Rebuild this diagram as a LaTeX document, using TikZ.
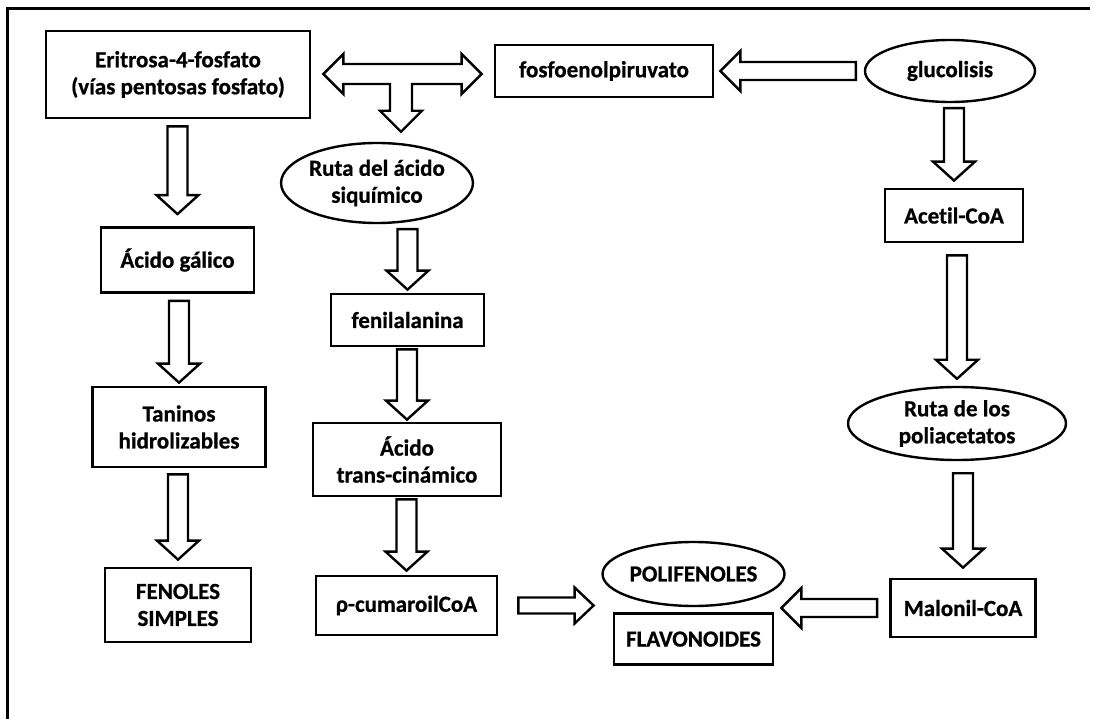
\documentclass[tikz,border=0pt]{standalone}
\usepackage{fontspec}
\setmainfont{Carlito}[Ligatures={NoCommon},BoldFeatures={FakeBold=0.8}]
\usepackage{tikz}
\usetikzlibrary{positioning,calc,shapes.geometric}

% hollow block arrows, x from the target, y from the source
\newcommand{\fatdown}[4]{%
  \draw[fat] let \p1=(#1), \p2=(#2) in
    (\x2-10pt,\y1-#3) -- (\x2-10pt,\y2+#4+19pt) -- (\x2-21pt,\y2+#4+19pt)
    -- (\x2,\y2+#4) -- (\x2+21pt,\y2+#4+19pt) -- (\x2+10pt,\y2+#4+19pt)
    -- (\x2+10pt,\y1-#3) -- cycle;}
\newcommand{\fatleft}[4]{%
  \draw[fat] let \p1=(#1), \p2=(#2) in
    (\x1-#3,\y1+9pt) -- (\x2+#4+20pt,\y1+9pt) -- (\x2+#4+20pt,\y1+20pt)
    -- (\x2+#4,\y1) -- (\x2+#4+20pt,\y1-20pt) -- (\x2+#4+20pt,\y1-9pt)
    -- (\x1-#3,\y1-9pt) -- cycle;}
\newcommand{\fatright}[4]{%
  \draw[fat] let \p1=(#1), \p2=(#2) in
    (\x1+#3,\y1+8pt) -- (\x2-#4-19pt,\y1+8pt) -- (\x2-#4-19pt,\y1+18pt)
    -- (\x2-#4,\y1) -- (\x2-#4-19pt,\y1-18pt) -- (\x2-#4-19pt,\y1-8pt)
    -- (\x1+#3,\y1-8pt) -- cycle;}

\begin{document}
\begin{tikzpicture}[
  x=1pt, y=-1pt,
  every node/.style={font=\fontsize{23}{27}\selectfont\bfseries},
  box/.style={draw,line width=2.8pt,inner sep=0pt,align=center},
  oval/.style={draw,ellipse,line width=2.4pt,inner sep=0pt,align=center},
  fat/.style={draw,line width=2.4pt,fill=white,line join=miter}
]
  \useasboundingbox (0,0) rectangle (1093,719);
  \draw[line width=3pt] (7,719) -- (7,8.5) -- (1090,8.5);

  % left column
  \node[box,minimum width=264pt,minimum height=87pt] (erit) at (178,74.5)
    {Eritrosa-4-fosfato\\(vías pentosas fosfato)};
  \node[box,minimum width=153pt,minimum height=65pt] (acgal) at (177.5,260) {Ácido gálico};
  \node[box,minimum width=173pt,minimum height=80pt] (tanin) at (179,427) {Taninos\\hidrolizables};
  \node[box,minimum width=146pt,minimum height=74pt] (fenol) at (178,605) {FENOLES\\SIMPLES};

  % middle column
  \node[box,minimum width=218pt,minimum height=52pt] (fosfo) at (604,71) {fosfoenolpiruvato};
  \node[oval,minimum width=151pt,minimum height=80pt] (ruta) at (377,183) {Ruta del ácido\\siquímico};
  \node[box,minimum width=153pt,minimum height=52pt] (fenil) at (407.5,320) {fenilalanina};
  \node[box,minimum width=188pt,minimum height=73pt] (trans) at (407,459.5) {Ácido\\trans-cinámico};
  \node[box,minimum width=181pt,minimum height=59pt] (cumar) at (406.5,605.5) {ρ-cumaroilCoA};

  % products
  \node[oval,minimum width=182pt,minimum height=64pt] (polif) at (693.5,574) {POLIFENOLES};
  \node[box,minimum width=159pt,minimum height=51pt,below=5pt of polif] (flav) {FLAVONOIDES};

  % right column
  \node[oval,minimum width=170pt,minimum height=62pt] (gluco) at (950,71) {glucolisis};
  \node[box,minimum width=138pt,minimum height=53pt] (acetil) at (954,215.5) {Acetil-CoA};
  \node[oval,minimum width=218pt,minimum height=73pt] (poliac) at (957,423.5) {Ruta de los\\poliacetatos};
  \node[box,minimum width=145pt,minimum height=58pt] (malon) at (963,608) {Malonil-CoA};

  % T arrow between the two precursors and the shikimate route
  \coordinate (tee) at (401,74);
  \draw[fat] let \p1=(erit.east), \p2=(fosfo.west), \p3=(tee), \p4=(ruta.north) in
    (\x1+12pt,\y3) -- (\x1+32pt,\y3+20pt) -- (\x1+32pt,\y3+10pt)
    -- (\x2-32pt,\y3+10pt) -- (\x2-32pt,\y3+20pt) -- (\x2-12pt,\y3)
    -- (\x2-32pt,\y3-20pt) -- (\x2-32pt,\y3-10pt) -- (\x3+11pt,\y3-10pt)
    -- (\x3+11pt,\y4+31pt) -- (\x3+21pt,\y4+31pt) -- (\x3,\y4+10pt)
    -- (\x3-21pt,\y4+31pt) -- (\x3-11pt,\y4+31pt) -- (\x3-11pt,\y3-10pt)
    -- (\x1+32pt,\y3-10pt) -- (\x1+32pt,\y3-20pt) -- cycle;

  \fatdown{erit.south}{acgal.north}{7pt}{12pt}
  \fatdown{acgal.south}{tanin.north}{7pt}{3pt}
  \fatdown{tanin.south}{fenol.north}{6pt}{7pt}
  \fatdown{ruta.south}{fenil.north}{5pt}{3pt}
  \fatdown{fenil.south}{trans.north}{2pt}{2pt}
  \fatdown{trans.south}{cumar.north}{2pt}{4pt}
  \fatdown{gluco.south}{acetil.north}{5pt}{7pt}
  \fatdown{acetil.south}{poliac.north}{12pt}{7pt}
  \fatdown{poliac.south}{malon.north}{12pt}{10pt}

  \fatleft{gluco.west}{fosfo.east}{8pt}{6pt}
  \fatleft{malon.west}{flav.east}{12pt}{7pt}
  \fatright{cumar.east}{flav.west}{20pt}{19pt}
\end{tikzpicture}
\end{document}
